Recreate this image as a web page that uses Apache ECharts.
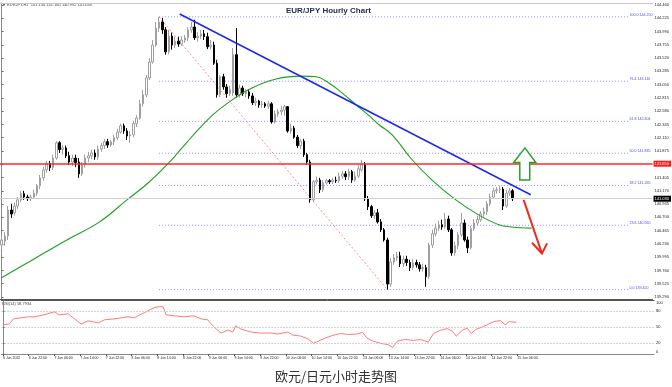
<!DOCTYPE html>
<html><head><meta charset="utf-8">
<script src="https://cdn.jsdelivr.net/npm/echarts@6/dist/echarts.min.js"></script>
<style>html,body{margin:0;padding:0;background:#fff}#c{width:672px;height:387px}</style>
</head><body><div id="c"></div>
<script>
// ---- data ----
const timeLabels = ['6 Jun 2022','6 Jun 22:00','7 Jun 06:00','7 Jun 14:00','7 Jun 22:00','8 Jun 06:00','8 Jun 14:00','8 Jun 22:00','9 Jun 06:00','9 Jun 14:00','9 Jun 22:00','10 Jun 06:00','10 Jun 14:00','10 Jun 22:00','13 Jun 06:00','13 Jun 14:00','13 Jun 22:00','14 Jun 06:00','14 Jun 14:00','14 Jun 22:00','15 Jun 06:00'];
const slotCount = 203; // hourly slots visible across the chart width
// [open, close, low, high]
const ohlc = [
[140.21,140.30,140.13,140.37],[140.28,140.37,140.20,140.44],[140.37,140.83,140.30,140.90],[140.83,140.76,140.69,140.94],
[140.78,140.90,140.73,140.96],[140.90,141.01,140.85,141.06],[141.01,141.12,140.97,141.17],[141.12,141.06,141.01,141.17],
[141.06,141.03,140.99,141.10],[141.03,141.06,140.99,141.10],[141.06,141.13,141.03,141.19],[141.13,141.26,141.08,141.29],
[141.26,141.40,141.20,141.45],[141.40,141.54,141.35,141.59],[141.54,141.65,141.49,141.70],[141.65,141.58,141.52,141.70],
[141.58,141.75,141.54,141.81],[141.75,142.02,141.72,142.05],[142.02,141.90,141.84,142.05],[141.90,141.93,141.81,141.98],
[141.93,141.79,141.75,141.97],[141.79,141.68,141.63,141.86],[141.68,141.75,141.61,141.81],[141.75,141.67,141.59,141.81],
[141.68,141.47,141.40,141.75],[141.47,141.63,141.43,141.68],[141.63,141.75,141.58,141.81],[141.75,141.79,141.68,141.86],
[141.79,141.84,141.73,141.90],[141.84,141.77,141.72,141.90],[141.77,141.91,141.72,141.97],[141.91,141.97,141.86,142.02],
[141.97,142.04,141.91,142.09],[142.04,141.98,141.93,142.09],[141.98,142.04,141.95,142.07],[142.04,142.11,141.98,142.16],
[142.11,142.21,142.07,142.27],[142.21,142.32,142.18,142.36],[142.32,142.23,142.18,142.36],[142.23,142.14,142.07,142.28],
[142.14,142.16,142.02,142.23],[142.16,142.36,142.12,142.41],[142.36,142.46,142.30,142.51],[142.46,142.71,142.43,142.78],
[142.71,142.87,142.66,142.96],[142.87,143.17,142.83,143.22],[143.17,143.45,143.13,143.52],[143.45,143.75,143.42,143.84],
[143.75,144.05,143.72,144.16],[144.05,144.16,143.98,144.25],[144.16,144.02,143.95,144.23],[144.02,143.63,143.58,144.07],
[143.63,143.91,143.59,144.02],[143.91,143.75,143.67,143.97],[143.75,143.82,143.70,143.90],[143.82,143.77,143.72,143.90],
[143.77,143.84,143.74,143.91],[143.84,143.88,143.79,143.93],[143.88,144.02,143.82,144.07],[144.02,144.07,143.97,144.16],
[144.07,143.88,143.84,144.20],[143.88,143.91,143.81,143.98],[143.91,143.95,143.86,144.02],[143.95,143.90,143.84,144.02],
[143.90,143.72,143.68,143.97],[143.72,143.75,143.67,143.84],[143.75,143.43,143.40,143.81],[143.43,142.87,142.82,143.49],
[142.87,143.19,142.83,143.22],[143.19,143.01,142.96,143.24],[143.01,142.89,142.82,143.06],[142.89,142.96,142.85,143.03],
[142.90,143.58,142.85,143.70],[143.58,142.87,142.82,144.05],[142.87,142.99,142.82,143.05],[142.99,142.89,142.85,143.03],
[142.89,142.92,142.83,142.97],[142.92,142.85,142.80,142.97],[142.85,142.73,142.69,142.90],[142.73,142.76,142.67,142.82],
[142.76,142.69,142.64,142.78],[142.69,142.71,142.64,142.76],[142.71,142.67,142.64,142.74],[142.67,142.71,142.62,142.76],
[142.71,142.39,142.36,142.74],[142.39,142.53,142.36,142.59],[142.53,142.57,142.48,142.62],[142.57,142.60,142.51,142.67],
[142.60,142.66,142.50,142.69],[142.66,142.23,142.20,142.67],[142.23,142.28,142.18,142.36],[142.28,142.12,142.09,142.32],
[142.12,141.97,141.93,142.16],[141.97,142.05,141.91,142.09],[142.05,141.81,141.77,142.09],[141.81,141.68,141.63,141.84],
[141.68,141.01,140.96,141.72],[141.01,141.33,140.97,141.36],[141.33,141.36,141.28,141.42],[141.36,141.19,141.13,141.40],
[141.19,141.31,141.15,141.36],[141.31,141.35,141.28,141.38],[141.35,141.33,141.29,141.38],[141.33,141.36,141.29,141.40],
[141.36,141.35,141.31,141.42],[141.35,141.43,141.31,141.49],[141.43,141.47,141.38,141.52],[141.47,141.42,141.36,141.52],
[141.42,141.51,141.36,141.56],[141.51,141.36,141.31,141.54],[141.36,141.43,141.33,141.51],[141.43,141.56,141.40,141.63],
[141.54,141.63,141.51,141.72],[141.63,141.03,140.99,141.68],[141.03,140.89,140.83,141.08],[140.89,140.73,140.69,140.92],
[140.73,140.78,140.67,140.83],[140.78,140.62,140.59,140.85],[140.62,140.48,140.44,140.67],[140.48,140.30,140.27,140.51],
[140.30,139.52,139.42,140.34],[139.52,139.91,139.47,139.98],[139.91,139.98,139.86,140.05],[139.98,140.02,139.93,140.09],
[140.02,139.88,139.82,140.09],[139.88,139.96,139.82,140.02],[139.96,139.90,139.84,140.02],[139.90,139.81,139.75,139.95],
[139.81,139.90,139.77,139.96],[139.90,139.86,139.81,139.95],[139.86,139.79,139.74,139.91],[139.79,139.81,139.74,139.88],
[139.81,139.65,139.47,139.86],[139.65,140.21,139.61,140.25],[140.21,140.41,140.16,140.48],[140.41,140.51,140.36,140.59],
[140.51,140.57,140.46,140.64],[140.57,140.53,140.48,140.66],[140.53,140.67,140.50,140.78],[140.67,140.48,140.44,140.73],
[140.48,140.07,140.02,140.51],[140.07,140.20,140.02,140.27],[140.20,140.39,140.14,140.44],[140.39,140.60,140.36,140.78],
[140.60,140.30,140.27,140.66],[140.30,140.16,140.07,140.36],[140.16,140.50,140.13,140.55],[140.50,140.60,140.46,140.67],
[140.60,140.66,140.55,140.73],[140.66,140.76,140.62,140.81],[140.76,140.80,140.71,140.87],[140.80,140.94,140.74,140.99],
[140.94,141.06,140.90,141.12],[141.06,141.17,141.03,141.22],[141.17,141.19,141.12,141.24],[141.19,141.20,141.13,141.26],
[141.20,140.90,140.83,141.24],[140.90,141.13,140.87,141.19],[141.13,141.17,141.08,141.22],[141.17,141.03,140.99,141.20]
];
// moving average read at sample bars [bar, price]
const maPoints = [[0,139.63],[9.7,139.95],[20.3,140.30],[30.5,140.62],[39,141.01],[46,141.33],[52.9,141.72],[57.5,142.02],[61.6,142.28],[65.6,142.51],[70,142.71],[77.1,142.97],[85.4,143.15],[93.5,143.20],[97.8,143.19],[101.8,143.08],[106,142.90],[110.3,142.69],[114.3,142.50],[117.4,142.34],[121.5,142.16],[127.7,141.72],[133.9,141.36],[141.3,141.01],[148.5,140.74],[154.7,140.57],[158.7,140.53],[164.9,140.51]];
// RSI(14) read at sample bars [bar, value]
const rsiPoints = [[0,53.8],[2,55.7],[3.2,65],[5.7,67],[7.9,68.9],[9.7,68.9],[12.8,72.6],[16,78.2],[17.5,72.6],[20.3,74.5],[21.8,67],[24.3,55.7],[26.5,61.4],[29.6,57.6],[31.5,63.2],[34.6,65.1],[38.9,68.9],[40.8,67],[43.9,76.4],[47,85.7],[48.5,87.6],[49.8,87.6],[50.7,72.6],[53.2,70.7],[56.3,68.9],[59.4,70.7],[61.6,65.1],[63.7,63.2],[65.6,50.1],[67.8,38.8],[70,44.5],[71.5,40.7],[72.4,52],[74,46.3],[77.1,40.7],[80.2,38.8],[83.3,38.8],[85.5,37],[88.6,40.7],[90.1,35.1],[92.6,33.2],[94.8,28],[96.6,20],[98.2,24],[100.4,30],[102.9,35],[105,38],[107.5,36],[110,37],[111.9,40],[113.1,30],[115,24],[117.4,20],[119.9,17],[121.2,12],[122.7,24],[125.2,27],[127.7,25],[129.9,27],[132.3,22],[133.9,38],[136.1,44],[138.2,47],[139.8,42],[141,33],[142.9,44],[144.4,48],[145.7,38],[147.2,46],[149.1,50],[150.9,55],[152.8,60],[154.7,62],[156.2,54],[157.5,60],[158.7,59],[159.7,58.8]];
const priceTicks = [139.290,139.525,139.760,139.995,140.230,140.465,140.700,140.935,141.170,141.405,141.640,141.875,142.110,142.345,142.580,142.815,143.050,143.285,143.520,143.755,143.990,144.225,144.460];
const rsiTicks = [0,20,50,80,100];
const rsiLevels = [20,50,80];
const fibLevels = [144.25,143.11,142.40,141.835,141.265,140.56,139.42];
const fibNames = ['100.0 144.250','76.4 143.110','61.8 142.404','50.0 141.835','38.2 141.265','23.6 140.560','0.0 139.420'];
const fibStartBar = 49, fibEndBar = 195;
const trendLine = [[55.4,144.30],[164.6,141.10]];
const fibDiagonal = [[49,144.25],[120,139.42]];
const resistanceLevel = 141.65, resistanceText = '141.650';
const lastPrice = 141.03, lastPriceText = '141.030';
const upArrow = [[162.8,141.93],[166.2,141.67],[164.3,141.67],[164.3,141.36],[161.2,141.36],[161.2,141.67],[159.3,141.67]];
const downArrowShaft = [[162.4,141.01],[168.1,140.06]];
const downArrowHead = [[165.0,140.25],[168.1,140.06],[169.7,140.24]];
const headerText = '\u25BC EURJPY,H1  141.134 141.160 140.992 141.030';
const rsiHeader = 'RSI(14) 58.7934';

// ---- chart ----
const slots = Array.from({length: slotCount}, (_, i) => String(i));
const chart = echarts.init(document.getElementById('c'), null, {renderer: 'canvas'});
const yMin = 139.2546, yMax = 144.4954;
const tiny = 'Liberation Sans';
chart.setOption({
  animation: false,
  backgroundColor: '#ffffff',
  title: [
    {text: 'EUR/JPY Hourly Chart', left: 281, top: 2, textStyle: {fontSize: 8, fontWeight: 'bold', color: '#1c2b4a', fontFamily: tiny}},
    {text: '欧元/日元小时走势图', left: 'center', top: 365, textStyle: {fontSize: 13, fontWeight: 'normal', color: '#333333', fontFamily: 'Noto Sans CJK SC'}}
  ],
  graphic: [
    {type: 'text', left: 2, top: 3, style: {text: headerText, fontSize: 4, fill: '#444', fontFamily: tiny}},
    {type: 'text', left: 2, top: 302, style: {text: rsiHeader, fontSize: 4, fill: '#444', fontFamily: tiny}}
  ],
  grid: [
    {left: 0, right: 18, top: 3, height: 296, show: false},
    {left: 0, right: 18, top: 300, height: 54, show: false}
  ],
  xAxis: [
    {type: 'category', gridIndex: 0, data: slots, boundaryGap: true, position: 'top',
     axisLine: {show: true, lineStyle: {color: '#c8c8c8'}}, axisTick: {show: false}, axisLabel: {show: false}, splitLine: {show: false}},
    {type: 'value', gridIndex: 0, min: -0.5, max: slotCount - 0.5, position: 'bottom',
     axisLine: {show: true, onZero: false, lineStyle: {color: '#555'}}, axisTick: {show: false}, axisLabel: {show: false}, splitLine: {show: false}},
    {type: 'category', gridIndex: 1, data: slots, boundaryGap: true, position: 'bottom',
     axisLine: {show: true, lineStyle: {color: '#888'}},
     axisTick: {show: true, alignWithLabel: true, length: 2, interval: (i) => i % 8 === 0 && i / 8 < timeLabels.length, lineStyle: {color: '#555'}},
     axisLabel: {show: true, interval: (i) => i % 8 === 0 && i / 8 < timeLabels.length, formatter: (v) => timeLabels[Number(v) / 8] || '',
       fontSize: 3.5, color: '#222', align: 'left', margin: 2, fontFamily: tiny},
     splitLine: {show: false}},
    {type: 'value', gridIndex: 1, min: -0.5, max: slotCount - 0.5, position: 'top',
     axisLine: {show: true, onZero: false, lineStyle: {color: '#555'}}, axisTick: {show: false}, axisLabel: {show: false}, splitLine: {show: false}}
  ],
  yAxis: [
    {type: 'value', gridIndex: 0, position: 'right', min: yMin, max: yMax, scale: true,
     axisLine: {show: true, lineStyle: {color: '#888'}},
     axisTick: {show: true, length: 2, customValues: priceTicks, lineStyle: {color: '#666'}},
     axisLabel: {show: true, customValues: priceTicks, formatter: (v) => v.toFixed(3), fontSize: 4, color: '#222', margin: 2, fontFamily: tiny},
     splitLine: {show: false}},
    {type: 'value', gridIndex: 1, position: 'right', min: 0, max: 100,
     axisLine: {show: true, lineStyle: {color: '#888'}},
     axisTick: {show: true, length: 2, customValues: rsiTicks, lineStyle: {color: '#666'}},
     axisLabel: {show: true, customValues: rsiTicks, fontSize: 4, color: '#222', margin: 2, fontFamily: tiny,
       formatter: (v) => v === 100 ? '{t|100}' : (v === 0 ? '{b|0}' : String(v)),
       rich: {t: {fontSize: 4, padding: [5, 0, 0, 0]}, b: {fontSize: 4, padding: [0, 0, 5, 0]}}},
     splitLine: {show: false}}
  ],
  series: [
    {type: 'candlestick', name: 'EURJPY', xAxisIndex: 0, yAxisIndex: 0, data: ohlc, barWidth: 2,
     itemStyle: {color: '#ffffff', color0: '#000000', borderColor: '#a0a0a0', borderColor0: '#000000', borderWidth: 1},
     markLine: {silent: true, symbol: ['none', 'none'], animation: false,
       data: [
         {yAxis: resistanceLevel, lineStyle: {color: '#ff2a2a', width: 1.6, type: 'solid'},
          label: {show: true, position: 'end', formatter: resistanceText, backgroundColor: '#ff1a1a', color: '#ffffff', fontSize: 4, padding: [1, 2, 1, 1], distance: 1, fontFamily: tiny}},
         {yAxis: lastPrice, lineStyle: {color: '#cfcfcf', width: 1, type: 'solid'},
          label: {show: true, position: 'end', formatter: lastPriceText, backgroundColor: '#000000', color: '#ffffff', fontSize: 4, padding: [1, 2, 1, 1], distance: 1, fontFamily: tiny}}
       ]}},
    {type: 'custom', name: 'fibLevels', xAxisIndex: 1, yAxisIndex: 0, data: fibLevels.map((lv, k) => [k, lv]), clip: false, z: 1, silent: true,
     renderItem: (params, api) => {
       const lv = api.value(1);
       const a = api.coord([fibStartBar, lv]);
       const b = api.coord([fibEndBar, lv]);
       return {type: 'group', children: [
         {type: 'line', shape: {x1: a[0], y1: a[1], x2: b[0], y2: b[1]},
          style: {stroke: '#8a8aff', lineWidth: 1, lineDash: [1, 2]}},
         {type: 'text', x: b[0] + 1, y: b[1], style: {text: fibNames[params.dataIndex], fill: '#4a4aff', fontSize: 3.6, fontFamily: tiny, verticalAlign: 'bottom', align: 'left'}}
       ]};
     }},
    {type: 'line', name: 'MA', xAxisIndex: 1, yAxisIndex: 0, data: maPoints, smooth: 0.4, showSymbol: false, symbol: 'none',
     lineStyle: {color: '#1f9e1f', width: 1.1}, z: 3},
    {type: 'line', name: 'fibAnchor', xAxisIndex: 1, yAxisIndex: 0, data: fibDiagonal, showSymbol: false, symbol: 'none',
     lineStyle: {color: '#ff7070', width: 0.8, type: [2, 2]}, z: 2},
    {type: 'line', name: 'trend', xAxisIndex: 1, yAxisIndex: 0, data: trendLine, showSymbol: false, symbol: 'none',
     lineStyle: {color: '#1a2ae6', width: 1.5}, z: 4},
    {type: 'custom', name: 'arrows', xAxisIndex: 1, yAxisIndex: 0, data: [[160, 141]], clip: false, z: 5,
     renderItem: (params, api) => ({
       type: 'group',
       children: [
         {type: 'polygon', shape: {points: upArrow.map(p => api.coord(p))}, style: {fill: '#ffffff', stroke: '#2aa02a', lineWidth: 1.5}},
         {type: 'polyline', shape: {points: downArrowShaft.map(p => api.coord(p))}, style: {fill: null, stroke: '#ee2a1a', lineWidth: 2}},
         {type: 'polyline', shape: {points: downArrowHead.map(p => api.coord(p))}, style: {fill: null, stroke: '#ee2a1a', lineWidth: 2}}
       ]
     })},
    {type: 'line', name: 'RSI', xAxisIndex: 3, yAxisIndex: 1, data: rsiPoints, showSymbol: false, symbol: 'none',
     lineStyle: {color: '#ff7a7a', width: 1},
     markLine: {silent: true, symbol: ['none', 'none'], animation: false, label: {show: false},
       lineStyle: {color: '#c8c8c8', width: 1, type: [1.5, 1.5]},
       data: rsiLevels.map(v => ({yAxis: v, lineStyle: {color: '#c8c8c8', width: 1, type: [1.5, 1.5]}}))}}
  ]
});
</script></body></html>
